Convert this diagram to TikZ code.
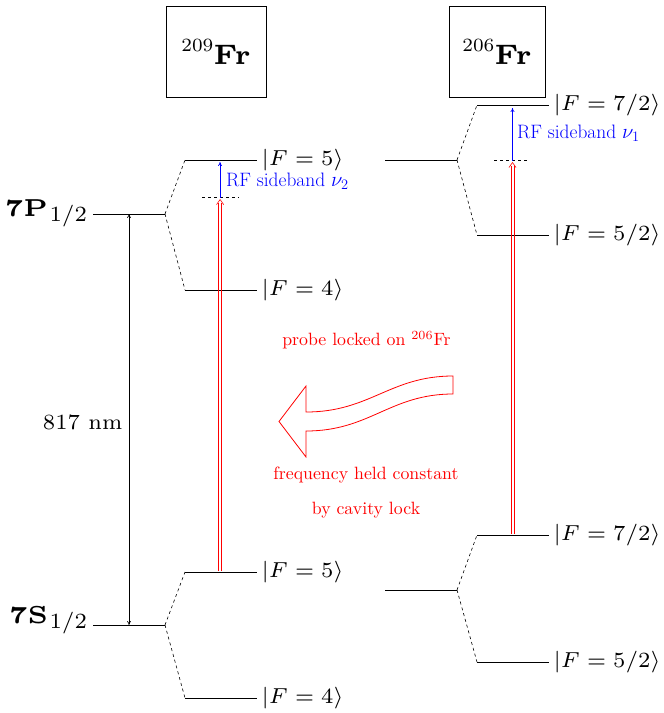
\documentclass[tikz,border=0pt]{standalone}
\usepackage{graphicx}
\usetikzlibrary{arrows.meta}
\begin{document}
\begin{tikzpicture}[x=1pt,y=-1pt,
  lvl/.style={line width=0.8pt},
  split/.style={dashed,line width=0.6pt},
  lab/.style={anchor=west,inner sep=0pt,font=\fontsize{7}{8}\selectfont,scale=3.1},
  term/.style={inner sep=0pt,font=\fontsize{5}{6}\selectfont,scale=4.9},
  isobox/.style={draw,line width=0.7pt,inner sep=0pt,font=\fontsize{6}{7}\selectfont,scale=4.7},
  rftxt/.style={anchor=west,inner sep=0pt,text=blue,font=\fontsize{19.4}{22}\selectfont},
  redtxt/.style={inner sep=0pt,text=red,font=\fontsize{10}{12}\selectfont,scale=1.78},
  beam/.style={red,line width=0.6pt},
  beamhead/.style={red,line width=0.6pt,line join=round,line cap=round},
  rfarrow/.style={blue,line width=0.7pt,-{To[length=4pt,width=4pt]}},
  virt/.style={dashed,line width=0.7pt}]
\useasboundingbox (0,0) rectangle (664,713);

% isotope boxes
\node[isobox,minimum width=100pt/4.7,minimum height=91pt/4.7] (iso209) at (216,51.5)
  {\raisebox{2.8pt}{\scalebox{0.57}{\fontsize{7}{8}\selectfont 209}}\textbf{Fr}};
\node[isobox,minimum width=96pt/4.7,minimum height=91pt/4.7] (iso206) at (497,51.5)
  {\raisebox{2.8pt}{\scalebox{0.57}{\fontsize{7}{8}\selectfont 206}}\textbf{Fr}};

% ---------------- 209Fr ----------------
\coordinate (P0) at (93,214);  \coordinate (P1) at (165,214);
\coordinate (S0) at (93,625);  \coordinate (S1) at (165,625);
\coordinate (PA0) at (185,160); \coordinate (PA1) at (257,160);
\coordinate (PB0) at (185,290); \coordinate (PB1) at (257,290);
\coordinate (SA0) at (185,572); \coordinate (SA1) at (257,572);
\coordinate (SB0) at (185,698); \coordinate (SB1) at (257,698);
\draw[lvl] (P0) -- (P1);
\draw[lvl] (S0) -- (S1);
\draw[lvl] (PA0) -- (PA1);
\draw[lvl] (PB0) -- (PB1);
\draw[lvl] (SA0) -- (SA1);
\draw[lvl] (SB0) -- (SB1);
\draw[split] (P1) -- (PA0);
\draw[split] (P1) -- (PB0);
\draw[split] (S1) -- (SA0);
\draw[split] (S1) -- (SB0);

\node[term,anchor=base east] (t7p) at (88,216)
  {\textbf{7P}\hspace{0.3pt}\raisebox{-1.12pt}{\scalebox{0.633}{\fontsize{7}{8}\selectfont$1/2$}}};
\node[term,anchor=base east] (t7s) at (88,623)
  {\textbf{7S}\hspace{0.3pt}\raisebox{-1.12pt}{\scalebox{0.633}{\fontsize{7}{8}\selectfont$1/2$}}};

\node[lab] (fa) at (261,160) {$|F=5\rangle$};
\node[lab] (fb) at (261,290) {$|F=4\rangle$};
\node[lab] (fc) at (261,572) {$|F=5\rangle$};
\node[lab] (fd) at (261,698) {$|F=4\rangle$};

% 817 nm
\coordinate (w0) at (129,214);
\coordinate (w1) at (129,625);
\draw[line width=0.6pt,{To[length=4pt,width=4pt]}-{To[length=4pt,width=4pt]}] (w0) -- (w1);
\node[lab,anchor=east] (nm) at (123,422) {817 nm};

% laser + RF for 209
\coordinate (La0) at (218.5,571); \coordinate (La1) at (218.5,203);
\coordinate (Lb0) at (221.7,571); \coordinate (Lb1) at (221.7,203);
\coordinate (Lh0) at (216.6,204.5); \coordinate (Lt) at (220.1,199.5); \coordinate (Lh1) at (223.6,204.5);
\coordinate (V0) at (202,197.5);
\coordinate (V1) at (239,197.5);
\coordinate (B0) at (220,197.5);
\coordinate (B1) at (220,162);
\draw[virt] (V0) -- (V1);
\draw[beam] (La0) -- (La1);
\draw[beam] (Lb0) -- (Lb1);
\draw[beamhead] (Lh0) -- (Lt) -- (Lh1);
\draw[rfarrow] (B0) -- (B1);
\node[rftxt] (rf2) at (226,181) {RF sideband $\nu_2$};

% ---------------- 206Fr ----------------
\coordinate (Q0) at (385,160);  \coordinate (Q1) at (457,160);
\coordinate (QA0) at (477,105); \coordinate (QA1) at (549,105);
\coordinate (QB0) at (477,235); \coordinate (QB1) at (549,235);
\coordinate (R0) at (385,590);  \coordinate (R1) at (457,590);
\coordinate (RA0) at (477,535); \coordinate (RA1) at (549,535);
\coordinate (RB0) at (477,662); \coordinate (RB1) at (549,662);
\draw[lvl] (Q0) -- (Q1);
\draw[lvl] (QA0) -- (QA1);
\draw[lvl] (QB0) -- (QB1);
\draw[lvl] (R0) -- (R1);
\draw[lvl] (RA0) -- (RA1);
\draw[lvl] (RB0) -- (RB1);
\draw[split] (Q1) -- (QA0);
\draw[split] (Q1) -- (QB0);
\draw[split] (R1) -- (RA0);
\draw[split] (R1) -- (RB0);

\node[lab] (ga) at (553,105) {$|F=7/2\rangle$};
\node[lab] (gb) at (553,235) {$|F=5/2\rangle$};
\node[lab] (gc) at (553,535) {$|F=7/2\rangle$};
\node[lab] (gd) at (553,662) {$|F=5/2\rangle$};

\coordinate (Ma0) at (510.9,534); \coordinate (Ma1) at (510.9,166);
\coordinate (Mb0) at (514.1,534); \coordinate (Mb1) at (514.1,166);
\coordinate (Mh0) at (509,167.5); \coordinate (Mt) at (512.5,162.5); \coordinate (Mh1) at (516,167.5);
\coordinate (U0) at (494,160.5);
\coordinate (U1) at (530,160.5);
\coordinate (C0) at (512.5,160.5);
\coordinate (C1) at (512.5,108);
\draw[virt] (U0) -- (U1);
\draw[beam] (Ma0) -- (Ma1);
\draw[beam] (Mb0) -- (Mb1);
\draw[beamhead] (Mh0) -- (Mt) -- (Mh1);
\draw[rfarrow] (C0) -- (C1);
\node[rftxt] (rf1) at (517,133) {RF sideband $\nu_1$};

% ---------------- transfer arrow ----------------
\node[redtxt] (probe) at (366.5,340) {probe locked on $^{206}$Fr};
\draw[red,line width=0.8pt,line join=miter]
  (453,376) -- (453,394) .. controls (390,394) and (370,431) .. (306,431)
  -- (306,457) -- (279,421.5) -- (306,386) -- (306,412)
  .. controls (370,412) and (390,376) .. (453,376) -- cycle;
\node[redtxt] (freq) at (366,475) {frequency held constant};
\node[redtxt] (cav) at (366,510) {by cavity lock};
\end{tikzpicture}
\end{document}
